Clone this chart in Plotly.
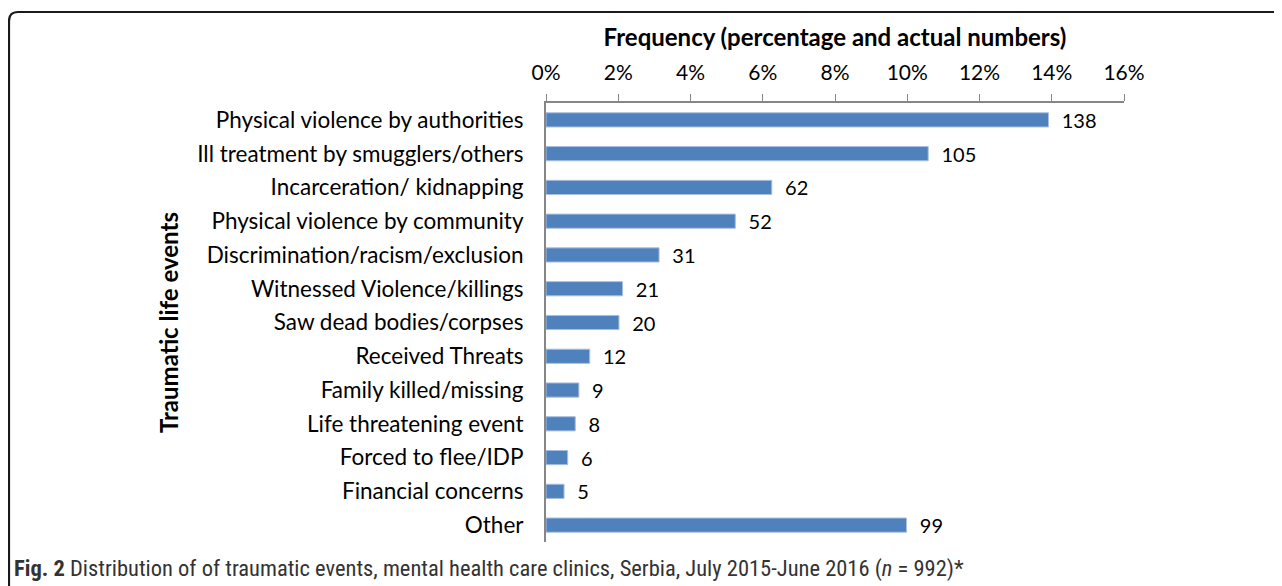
import plotly.graph_objects as go

categories = [
    "Physical violence by authorities",
    "Ill treatment by smugglers/others",
    "Incarceration/ kidnapping",
    "Physical violence by community",
    "Discrimination/racism/exclusion",
    "Witnessed Violence/killings",
    "Saw dead bodies/corpses",
    "Received Threats",
    "Family killed/missing",
    "Life threatening event",
    "Forced to flee/IDP",
    "Financial concerns",
    "Other",
]
counts = [138, 105, 62, 52, 31, 21, 20, 12, 9, 8, 6, 5, 99]
percent = [0.1391, 0.1058, 0.0625, 0.0524, 0.0313, 0.0212, 0.0202,
           0.0121, 0.0091, 0.0081, 0.0060, 0.0050, 0.0998]
tick_vals = [0, 0.02, 0.04, 0.06, 0.08, 0.10, 0.12, 0.14, 0.16]
tick_text = ["0%", "2%", "4%", "6%", "8%", "10%", "12%", "14%", "16%"]

# page body has an 8px margin: figure is shifted by 8px
OFF = 8
W, H = 1282 - OFF, 586 - OFF
L, R, T, B = 546 - OFF, 158, 103 - OFF, 44
pw, ph = W - L - R, H - T - B

def px_x(p):  # screen pixel -> paper
    return (p - OFF - L) / pw

def px_y(p):
    return (H - B - (p - OFF)) / ph

FONT = "Lato"

fig = go.Figure(go.Bar(
    x=percent,
    y=categories,
    orientation="h",
    marker=dict(color="#4F81BD", line=dict(color="#A9BFDF", width=1)),
    text=[str(c) for c in counts],
    texttemplate="  %{text}",
    textposition="outside",
    constraintext="none",
    cliponaxis=False,
    textfont=dict(family=FONT, size=20, color="#000000"),
    width=0.42,
))

fig.update_layout(
    width=W, height=H,
    margin=dict(l=L, r=R, t=T, b=B, pad=0),
    paper_bgcolor="white",
    plot_bgcolor="white",
    showlegend=False,
    font=dict(family=FONT, color="#000000"),
    xaxis=dict(
        side="top",
        range=[0, 0.16],
        tickvals=tick_vals,
        ticktext=tick_text,
        tickfont=dict(family=FONT, size=21, color="#000000"),
        ticks="outside",
        ticklen=7,
        tickcolor="#868686",
        tickwidth=1.3,
        ticklabelstandoff=6,
        showline=True,
        linecolor="#868686",
        linewidth=1.5,
        showgrid=False,
        zeroline=False,
        title=dict(text="<b>Frequency (percentage and actual numbers)</b>",
                   font=dict(family=FONT, size=24, color="#000000"),
                   standoff=5),
        fixedrange=True,
    ),
    yaxis=dict(
        categoryorder="array",
        categoryarray=categories,
        autorange="reversed",
        tickfont=dict(family=FONT, size=22.5, color="#000000"),
        ticks="",
        ticklabelstandoff=16,
        showline=True,
        linecolor="#868686",
        linewidth=2,
        showgrid=False,
        zeroline=False,
        title=dict(text="<b>Traumatic life events</b>",
                   font=dict(family=FONT, size=24, color="#000000"),
                   standoff=12),
        fixedrange=True,
    ),
)

# rounded frame around the figure
x0, y0 = px_x(9), px_y(12)
x1, y1 = px_x(1300), px_y(600)
rx = 9 / pw
ry = 9 / ph
path = (f"M {x0},{y1} L {x0},{y0 - ry} Q {x0},{y0} {x0 + rx},{y0} "
        f"L {x1},{y0}")
fig.add_shape(type="path", path=path, xref="paper", yref="paper",
              line=dict(color="#1a1a1a", width=2.2), layer="above")

fig.add_annotation(
    x=px_x(12), y=px_y(568), xref="paper", yref="paper",
    xanchor="left", yanchor="middle", showarrow=False,
    text=("<b>Fig. 2</b> Distribution of of traumatic events, mental health care clinics, "
          "Serbia, July 2015-June 2016 (<i>n</i> = 992)*"),
    font=dict(family="Liberation Sans Narrow, Roboto Condensed, Lato", size=22.5, color="#333333"),
)

fig.write_html("out.html")
